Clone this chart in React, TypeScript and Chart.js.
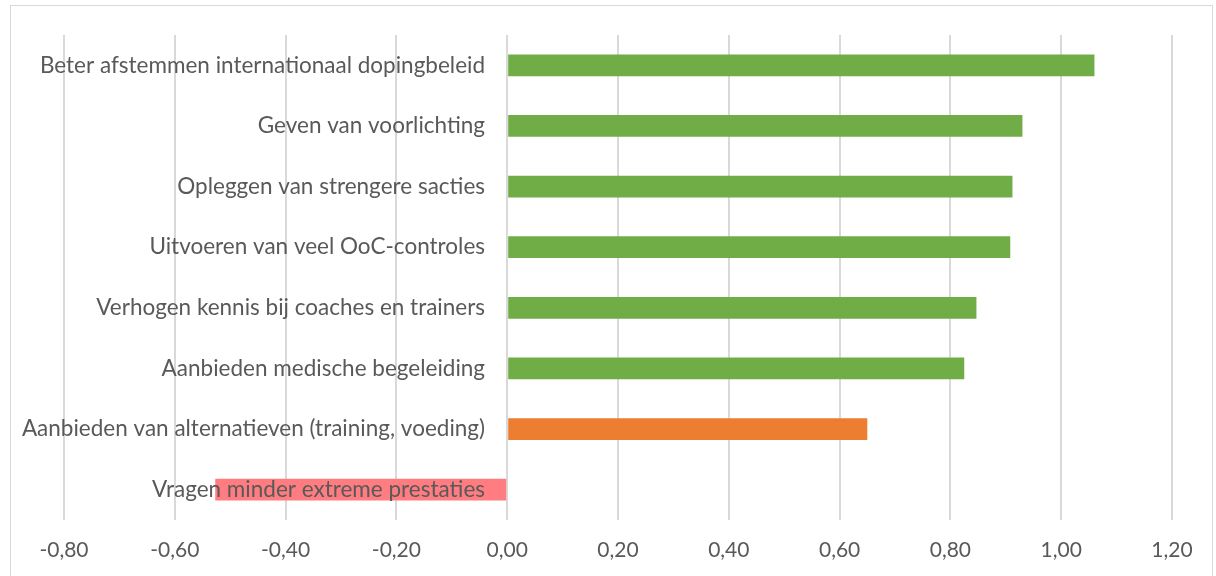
import React, { useEffect, useRef } from "react";
import { Chart, registerables } from "chart.js";

Chart.register(...registerables);

const categories = [
  "Beter afstemmen internationaal dopingbeleid",
  "Geven van voorlichting",
  "Opleggen van strengere sacties",
  "Uitvoeren van veel OoC-controles",
  "Verhogen kennis bij coaches en trainers",
  "Aanbieden medische begeleiding",
  "Aanbieden van alternatieven (training, voeding)",
  "Vragen minder extreme prestaties",
];

const scores = [1.06, 0.93, 0.912, 0.908, 0.847, 0.825, 0.65, -0.527];

const barColors = [
  "#70AD47",
  "#70AD47",
  "#70AD47",
  "#70AD47",
  "#70AD47",
  "#70AD47",
  "#ED7D31",
  "#FF7C80",
];

const xMin = -0.8;
const xMax = 1.2;
const xStep = 0.2;

const FONT = "Lato, 'Open Sans', sans-serif";
const TEXT = "#595959";

const framePlugin = {
  id: "frame",
  beforeDraw(chart: any) {
    const ctx = chart.ctx;
    ctx.save();
    ctx.fillStyle = "#ffffff";
    ctx.fillRect(0, 0, chart.width, chart.height);
    ctx.strokeStyle = "#D9D9D9";
    ctx.lineWidth = 1;
    ctx.strokeRect(10.5, 5.5, 1202, 600);
    ctx.restore();
  },
};

export default function App() {
  const ref = useRef<HTMLCanvasElement>(null);

  useEffect(() => {
    if (!ref.current) return;
    const chart = new Chart(ref.current, {
      type: "bar",
      data: {
        labels: categories,
        datasets: [
          {
            data: scores,
            backgroundColor: barColors,
            borderWidth: 0,
            categoryPercentage: 0.6,
            barPercentage: 0.6,
          },
        ],
      },
      plugins: [framePlugin],
      options: {
        indexAxis: "y",
        animation: false,
        responsive: false,
        maintainAspectRatio: false,
        layout: { padding: { left: 64, right: 44, top: 35, bottom: 13 } },
        plugins: {
          legend: { display: false },
          tooltip: { enabled: false },
          title: { display: false },
        },
        scales: {
          x: {
            type: "linear",
            min: xMin,
            max: xMax,
            grid: { color: "#D9D9D9", lineWidth: 2, drawTicks: false },
            border: { display: false },
            afterFit: (s: any) => {
              s.height = 43;
            },
            ticks: {
              stepSize: xStep,
              padding: 18,
              color: TEXT,
              font: { family: FONT, size: 21 },
              callback: (v: any) => {
                const n = Math.abs(Number(v)) < 1e-9 ? 0 : Number(v);
                return n.toFixed(2).replace(".", ",");
              },
            },
          },
          y: {
            type: "category",
            position: { x: -0.04 } as any,
            grid: { display: false, drawTicks: false },
            border: { display: false },
            ticks: {
              z: 1,
              autoSkip: false,
              padding: 0,
              color: TEXT,
              font: { family: FONT, size: 22.5 },
            },
          },
        },
      },
    });
    return () => chart.destroy();
  }, []);

  return (
    <div style={{ position: "absolute", left: 0, top: 0, width: 1216, height: 576, background: "#fff" }}>
      <canvas ref={ref} width={1216} height={576} style={{ display: "block", width: 1216, height: 576 }} />
    </div>
  );
}
